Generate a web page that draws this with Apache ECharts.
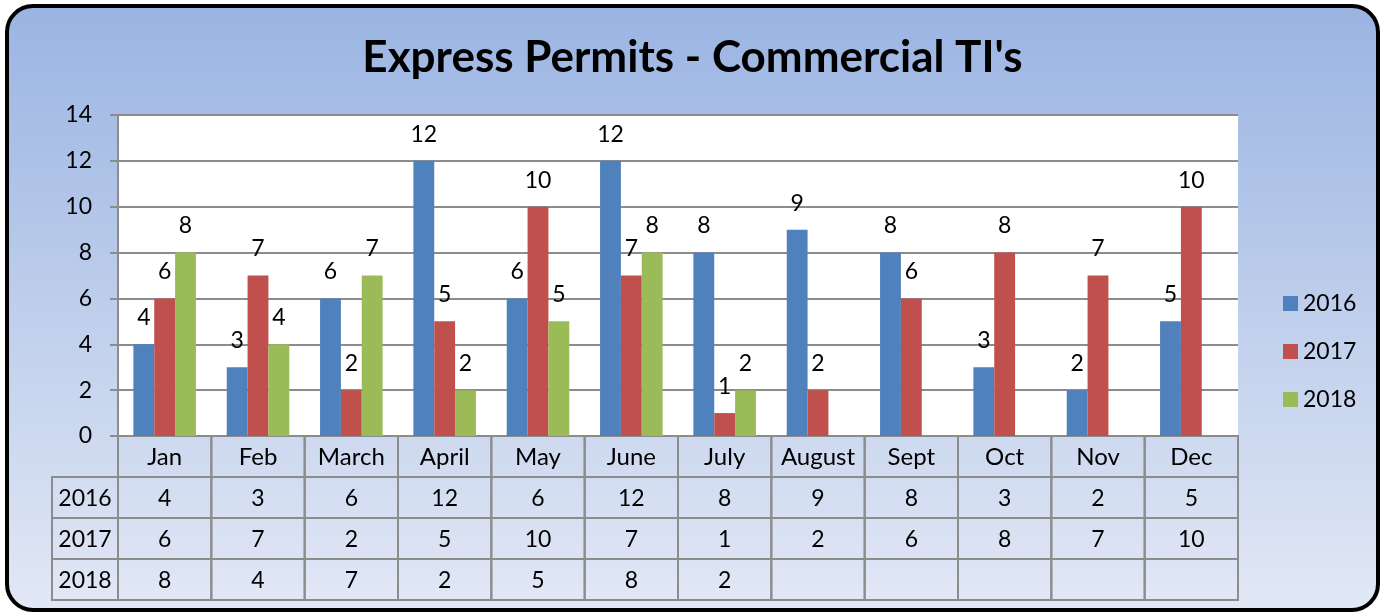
<!DOCTYPE html>
<html>
<head>
<meta charset="utf-8">
<script src="https://cdn.jsdelivr.net/npm/echarts@6/dist/echarts.min.js"></script>
<style>
html,body{margin:0;padding:0;background:#fff;}
#chart{width:1385px;height:616px;}
</style>
</head>
<body>
<div id="chart"></div>
<script>
const months = ['Jan','Feb','March','April','May','June','July','August','Sept','Oct','Nov','Dec'];
const seriesNames = ['2016','2017','2018'];
const v2016 = [4,3,6,12,6,12,8,9,8,3,2,5];
const v2017 = [6,7,2,5,10,7,1,2,6,8,7,10];
const v2018 = [8,4,7,2,5,8,2,null,null,null,null,null];
const yTicks = {min:0, max:14, interval:2};
const colors = ['#4f81bd','#c0504d','#9bbb59'];
const FONT = 'Lato';
const rows = [v2016, v2017, v2018];

const chart = echarts.init(document.getElementById('chart'));

const tableData = [];
for (let r = 0; r < 4; r++) for (let i = 0; i < months.length; i++) tableData.push([i, r]);
const yearData = seriesNames.map((n, r) => [0, r]);

const gridStroke = '#8c8c8c';

function cellRender(textFn, sizeFn) {
  return function (params, api) {
    const c = api.coord([api.value(0), api.value(1)]);
    const s = api.size([1, 1]);
    return {
      type: 'group',
      children: [
        {type: 'rect', shape: {x: c[0] - s[0] / 2, y: c[1] - s[1] / 2, width: s[0], height: s[1]},
         style: {fill: 'rgba(0,0,0,0)', stroke: gridStroke, lineWidth: 2}},
        {type: 'text', style: {text: textFn(api.value(0), api.value(1)), x: c[0], y: c[1] + 1,
          align: 'center', verticalAlign: 'middle', font: sizeFn(api.value(1)) + 'px ' + FONT, fill: '#000'}}
      ]
    };
  };
}

const barSeries = rows.map((vals, k) => ({
  name: seriesNames[k],
  type: 'bar',
  xAxisIndex: 0, yAxisIndex: 0,
  data: vals,
  barGap: '0%',
  barCategoryGap: '33%',
  itemStyle: {color: colors[k]},
  label: {show: true, position: 'top', distance: 15, fontSize: 23, fontFamily: FONT, color: '#000'}
}));

chart.setOption({
  textStyle: {fontFamily: FONT},
  animation: false,
  graphic: [{
    type: 'rect', z: -10,
    shape: {x: 7, y: 6, width: 1371, height: 604, r: 26},
    style: {
      fill: new echarts.graphic.LinearGradient(0, 0, 0, 1, [
        {offset: 0, color: '#9ab4e2'},
        {offset: 1, color: '#e2e8f5'}
      ]),
      stroke: '#000', lineWidth: 4
    }
  }],
  title: {
    text: "Express Permits - Commercial TI's",
    left: 'center', top: 31,
    textStyle: {fontSize: 44, fontWeight: 'bold', fontFamily: FONT, color: '#000'}
  },
  legend: {
    data: seriesNames,
    orient: 'vertical',
    left: 1278, top: 287,
    itemWidth: 15, itemHeight: 15, itemGap: 25,
    icon: 'rect',
    textStyle: {fontSize: 23, fontFamily: FONT, color: '#000'}
  },
  grid: [
    {left: 118, top: 115, width: 1120, height: 321, show: true, backgroundColor: '#fff', borderWidth: 0},
    {left: 118, top: 436, width: 1120, height: 164},
    {left: 52, top: 477, width: 66, height: 123}
  ],
  xAxis: [
    {type: 'category', data: months, gridIndex: 0, axisLabel: {show: false}, axisTick: {show: false},
     axisLine: {show: true, lineStyle: {color: gridStroke, width: 2}}},
    {type: 'category', data: months, gridIndex: 1, show: false},
    {type: 'category', data: [''], gridIndex: 2, show: false}
  ],
  yAxis: [
    {type: 'value', gridIndex: 0, min: yTicks.min, max: yTicks.max, interval: yTicks.interval,
     axisLine: {show: true, lineStyle: {color: gridStroke, width: 2}},
     axisTick: {show: true, length: 8, lineStyle: {color: gridStroke, width: 2}},
     splitLine: {show: true, lineStyle: {color: gridStroke, width: 2}},
     axisLabel: {fontSize: 23, fontFamily: FONT, color: '#000', margin: 26}},
    {type: 'category', data: ['head'].concat(seriesNames), gridIndex: 1, inverse: true, show: false},
    {type: 'category', data: seriesNames, gridIndex: 2, inverse: true, show: false}
  ],
  series: barSeries.concat([
    {
      type: 'custom', xAxisIndex: 1, yAxisIndex: 1, silent: true,
      data: tableData,
      renderItem: cellRender((i, r) => {
        if (r === 0) return months[i];
        const v = rows[r - 1][i];
        return v == null ? '' : String(v);
      }, r => (r === 0 ? 24 : 23))
    },
    {
      type: 'custom', xAxisIndex: 2, yAxisIndex: 2, silent: true,
      data: yearData,
      renderItem: cellRender((i, r) => seriesNames[r], r => 23)
    }
  ])
});
</script>
</body>
</html>
